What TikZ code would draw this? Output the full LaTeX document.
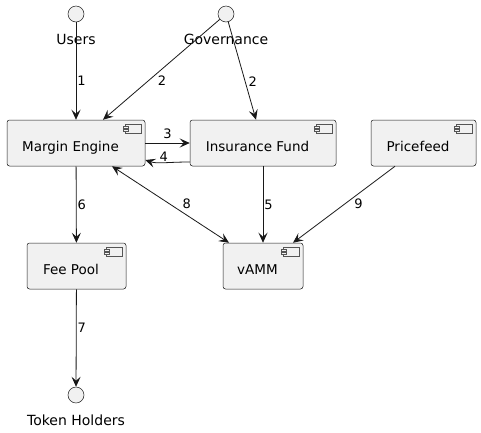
\documentclass[tikz,border=0pt]{standalone}
\usepackage{fontspec}
\setmainfont{DejaVu Sans}
\usetikzlibrary{arrows.meta}
\definecolor{boxfill}{HTML}{F1F1F1}
\definecolor{boxline}{HTML}{181818}
\definecolor{iconline}{HTML}{555555}
\tikzset{
  comp/.style={draw=boxline, fill=boxfill, line width=0.5pt, rounded corners=2.5pt,
    minimum height=46pt, inner sep=0pt},
  comptext/.style={font=\fontsize{13.5}{16}\selectfont, text height=10pt, text depth=3pt,
    inner sep=0pt, xshift=-5.5pt, yshift=-5pt},
  actor/.style={circle, draw=boxline, fill=boxfill, line width=0.5pt,
    minimum size=16pt, inner sep=0pt},
  actortext/.style={font=\fontsize{14}{16}\selectfont, text height=10pt, text depth=3pt,
    inner sep=2pt, yshift=-10pt},
  flow/.style={draw=boxline, line width=0.8pt, -{Stealth[length=10pt,width=9pt,inset=4pt]}},
  lbl/.style={font=\fontsize{13}{15}\selectfont, inner sep=1pt},
}

\begin{document}
\begin{tikzpicture}[x=1pt,y=-1pt]
\useasboundingbox (0,0) rectangle (481,432);

% actors
\node (users) [actor, label={[actortext]below:Users}] at (76,14) {};
\node (gov) [actor, label={[actortext]below:Governance}] at (226,14) {};
\node (holders) [actor, label={[actortext]below:Token Holders}] at (76,395) {};

% components
\node (margin) [comp, minimum width=138pt, label={[comptext]center:Margin Engine}] at (76,143) {};
\node (insurance) [comp, minimum width=146pt, label={[comptext]center:Insurance Fund}] at (263,143) {};
\node (pricefeed) [comp, minimum width=105pt, label={[comptext]center:Pricefeed}] at (423.5,143) {};
\node (feepool) [comp, minimum width=99pt, label={[comptext]center:Fee Pool}] at (76.5,266) {};
\node (vamm) [comp, minimum width=80pt, label={[comptext]center:vAMM}] at (263,266) {};

% component icons
\foreach \c in {margin,insurance,pricefeed,feepool,vamm}{
  \draw[iconline, line width=0.35pt, fill=boxfill]
    ([xshift=-20pt,yshift=-4pt]\c.north east) rectangle ([xshift=-4pt,yshift=-13pt]\c.north east);
  \draw[iconline, line width=0.35pt, fill=boxfill]
    ([xshift=-22pt,yshift=-6.5pt]\c.north east) rectangle ([xshift=-17pt,yshift=-8.5pt]\c.north east);
  \draw[iconline, line width=0.35pt, fill=boxfill]
    ([xshift=-22pt,yshift=-9.5pt]\c.north east) rectangle ([xshift=-17pt,yshift=-11.5pt]\c.north east);
}

% flows
\draw[flow] (users) -- node[lbl, right, pos=0.6] {1} (margin);
\draw[flow] (gov) -- node[lbl, anchor=west, pos=0.61, xshift=8pt] {2} ([xshift=27pt]margin.north);
\draw[flow] (gov) -- node[lbl, anchor=west, pos=0.61, xshift=2pt] {2} ([xshift=-7pt]insurance.north);
\draw[flow] (margin.east) -- node[lbl, above, yshift=3pt] {3} (insurance.west);
\draw[flow] ([yshift=-19pt]insurance.west) .. controls +(-22pt,0pt) and +(12pt,-4pt) ..
  node[lbl, above, pos=0.5] {4} ([yshift=-17pt]margin.east);
\draw[flow] (insurance) -- node[lbl, right, pos=0.5] {5} (vamm);
\draw[flow] (margin) -- node[lbl, right, pos=0.5] {6} (feepool);
\draw[flow] (feepool) -- node[lbl, right, pos=0.39] {7} (holders);
\draw[flow, {Stealth[length=10pt,width=9pt,inset=4pt]}-{Stealth[length=10pt,width=9pt,inset=4pt]}]
  ([xshift=36pt]margin.south) -- node[lbl, anchor=west, pos=0.49, xshift=12pt] {8} ([xshift=-34pt]vamm.north);
\draw[flow] ([xshift=-28.5pt]pricefeed.south) -- node[lbl, anchor=west, pos=0.49, xshift=8pt] {9} ([xshift=30pt]vamm.north);
\end{tikzpicture}
\end{document}
